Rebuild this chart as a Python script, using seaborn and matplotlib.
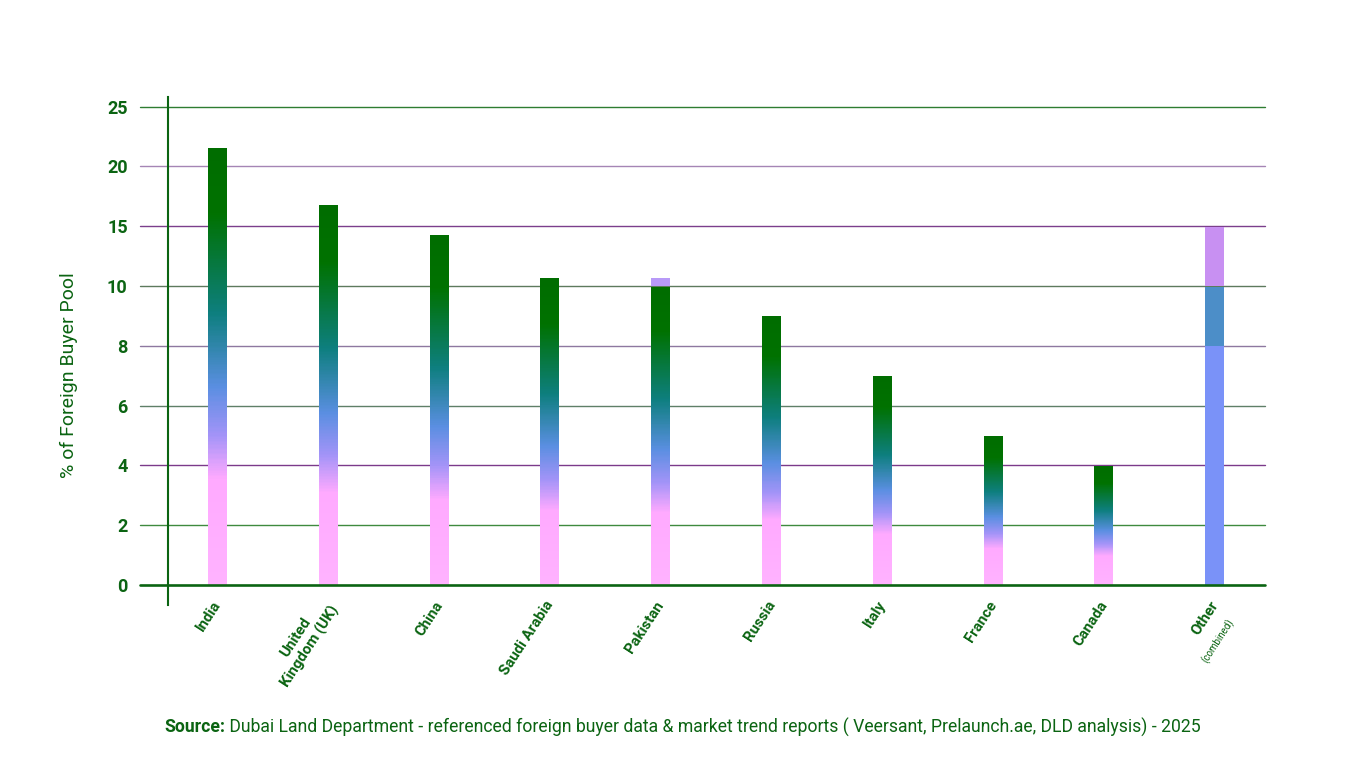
import numpy as np
import pandas as pd
import matplotlib
matplotlib.use("Agg")
import matplotlib.pyplot as plt
import matplotlib.transforms as mtransforms
import seaborn as sns
from matplotlib.colors import LinearSegmentedColormap, to_rgba

# ---------------- data ----------------
countries = ["India", "United\nKingdom (UK)", "China", "Saudi Arabia", "Pakistan",
             "Russia", "Italy", "France", "Canada", "Other"]
shares = [21.6, 16.8, 14.3, 10.7, 10.7, 9.0, 7.0, 5.0, 4.0, 15.0]
y_ticks = [0, 2, 4, 6, 8, 10, 15, 20, 25]
y_tick_labels = [str(t) for t in y_ticks]
y_label = "% of Foreign Buyer Pool"
other_note = "(combined)"
source_bold = "Source:"
source_text = (" Dubai Land Department - referenced foreign buyer data & market trend reports "
               "( Veersant, Prelaunch.ae, DLD analysis) - 2025")

# ---------------- style ----------------
sns.set_theme(style="white")
plt.rcParams['font.family'] = ['Roboto', 'DejaVu Sans']
GREEN = '#0b6412'
grid_colors = {0: GREEN, 2: '#3f8a3f', 4: '#7b3a8a', 6: '#5f7f68', 8: '#8e78a0',
               10: '#5d7a5d', 15: '#7b3f8c', 20: '#a585b5', 25: '#2e7d32'}

# piecewise-linear axis (equal spacing between the tick values)
knots_v = [-100] + y_ticks + [500]
knots_p = [-50] + list(range(len(y_ticks))) + [len(y_ticks) - 1 + (500 - 25) / 5]


def fwd(v):
    return np.interp(v, knots_v, knots_p)


def inv(p):
    return np.interp(p, knots_p, knots_v)


fig = plt.figure(figsize=(13.65, 7.68), dpi=100)
ax = fig.add_axes([168 / 1365, 1 - 605 / 768, (1265 - 168) / 1365, (605 - 97) / 768])

df = pd.DataFrame({"country": countries, "share": shares})
sns.barplot(data=df, x="country", y="share", ax=ax, width=0.18, color="#cccccc",
            saturation=1, zorder=3)
ax.set_yscale('function', functions=(fwd, inv))

grad = LinearSegmentedColormap.from_list(
    "g", [(0, '#006d00'), (0.15, '#007200'), (0.38, '#0e7f7f'), (0.55, '#5b8fe2'),
          (0.66, '#a394f8'), (0.76, '#ffaaff'), (1, '#ffb3ff')])


def paint(patch, lo, hi, cmap=None, color=None, n=500):
    x0 = patch.get_x()
    w = patch.get_width()
    v = np.linspace(lo, hi, n)
    if cmap is not None:
        t = (fwd(hi) - fwd(v)) / (fwd(hi) - fwd(lo))
        rgba = cmap(t)
    else:
        rgba = np.tile(np.array(to_rgba(color)), (n, 1))
    im = ax.imshow(rgba[:, None, :], extent=(x0, x0 + w, lo, hi), origin='lower',
                   aspect='auto', interpolation='nearest', zorder=3)
    im.set_clip_path(patch)


bars = list(ax.patches)
for i, (p, val) in enumerate(zip(bars, shares)):
    if i == 4:  # Pakistan: lavender cap above 10
        paint(p, 10, val, color='#b89af8')
        paint(p, 0, 10, cmap=grad)
    elif i == 9:  # Other (combined): flat blocks
        paint(p, 10, val, color='#c890f2')
        paint(p, 8, 10, color='#4c8ec8')
        paint(p, 0, 8, color='#7a92f8')
    else:
        paint(p, 0, val, cmap=grad)
    p.set_facecolor('none')
    p.set_edgecolor('none')

ax.set_ylim(-0.67, 25.8)
ax.set_xlim(-0.45, 9.45)

# grid lines (extending left of the axis like long ticks)
for t in y_ticks:
    if t == 0:
        ax.axhline(t, xmin=-0.0255, xmax=1, color=GREEN, lw=1.9, clip_on=False, zorder=4)
    else:
        ax.axhline(t, xmin=-0.0255, xmax=1, color=grid_colors[t], lw=1.0, clip_on=False, zorder=1)

ax.set_yticks(y_ticks)
ax.set_yticklabels(y_tick_labels)
ax.tick_params(axis='y', length=0, pad=29, labelsize=13, labelcolor=GREEN)
for lab in ax.get_yticklabels():
    lab.set_fontweight('bold')

ax.set_xticks(range(len(countries)))
ax.set_xticklabels(countries)
ax.tick_params(axis='x', length=0, pad=-2, labelcolor=GREEN)
for lab in ax.get_xticklabels():
    lab.set_rotation(57)
    lab.set_ha('right')
    lab.set_va('center')
    lab.set_rotation_mode('anchor')
    lab.set_fontsize(10.8)
    lab.set_fontweight('bold')
    lab.set_multialignment('center')

note_tr = mtransforms.offset_copy(ax.get_xaxis_transform(), fig=fig, x=12, y=-11,
                                  units='points')
ax.text(9, 0, other_note, transform=note_tr, rotation=57, ha='right', va='center',
        rotation_mode='anchor', fontsize=7, color=GREEN)

ax.set_xlabel("")
ax.set_ylabel(y_label, fontsize=14, color=GREEN)
ax.yaxis.set_label_coords(-0.082, 0.453)

for s in ['top', 'right', 'bottom']:
    ax.spines[s].set_visible(False)
ax.spines['left'].set_color(GREEN)
ax.spines['left'].set_linewidth(1.5)
ax.spines['left'].set_zorder(5)

# source line
t1 = fig.text(164 / 1365, 1 - 727 / 768, source_bold, fontsize=12.7, fontweight='bold',
              color=GREEN, va='center', ha='left')
fig.canvas.draw()
bb = t1.get_window_extent()
fig.text(bb.x1 / fig.bbox.width, 1 - 727 / 768, source_text, fontsize=12.7,
         color=GREEN, va='center', ha='left')

fig.savefig("out.png", dpi=100)
